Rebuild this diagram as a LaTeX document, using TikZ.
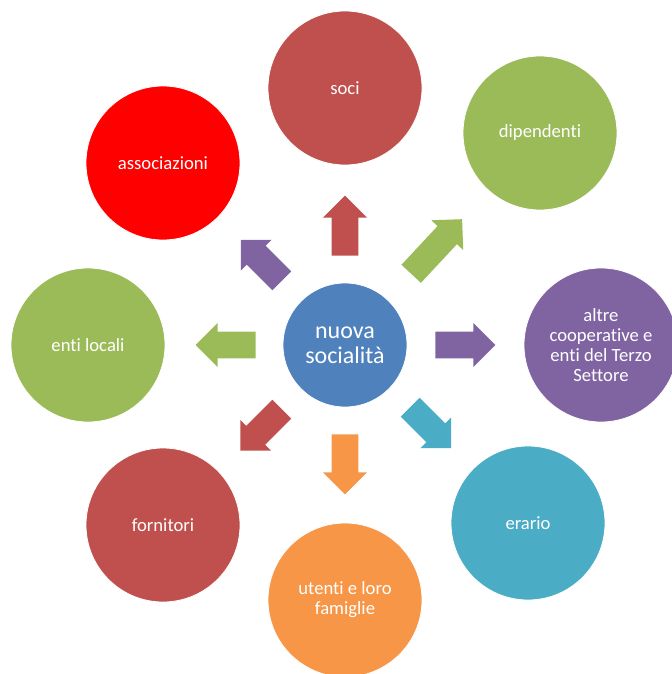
\documentclass[tikz,border=0pt]{standalone}
\usepackage{fontspec}
\setmainfont{Carlito}[Ligatures=NoCommon]
\usepackage{tikz}
\usetikzlibrary{shapes.arrows}

\definecolor{cred}{HTML}{C0504D}
\definecolor{cgreen}{HTML}{9BBB59}
\definecolor{cpurple}{HTML}{8064A2}
\definecolor{cteal}{HTML}{4BACC6}
\definecolor{corange}{HTML}{F79646}
\definecolor{cblue}{HTML}{4F81BD}

\begin{document}
\begin{tikzpicture}[x=0.75pt,y=-0.75pt]
	\useasboundingbox (0,0) rectangle (671,674);
	\begin{scope}[every node/.style={circle, draw=white, line width=0.6pt, minimum size=115.5pt,
	              inner sep=0pt, text=white, align=center, font=\fontsize{14}{15}\selectfont}]
		\node[fill=cblue, minimum size=93pt, font=\fontsize{18}{18.8}\selectfont] (mid) at (345,345) {nuova\\socialità};
		\node[fill=cred] (soci) at (345,88) {soci};
		\node[fill=cgreen] (dip) at (540,133) {dipendenti};
		\node[fill=cpurple] (altre) at (601,345) {altre\\cooperative e\\enti del Terzo\\Settore};
		\node[fill=cteal] (erario) at (528,523) {erario};
		\node[fill=corange] (utenti) at (345,600) {utenti e loro\\famiglie};
		\node[fill=cred] (forn) at (163,525) {fornitori};
		\node[fill=cgreen] (enti) at (88,345) {enti locali};
		\node[fill=red] (assoc) at (163,163) {associazioni};
	\end{scope}
	
	\begin{scope}[every node/.style={single arrow, anchor=tail, inner xsep=0pt, inner ysep=9.75pt,
	              single arrow head extend=6.4pt, minimum height=45pt}]
		\node[fill=cred, rotate=90] (a1) at (345,256) {};
		\node[fill=cgreen, rotate=47, minimum height=56pt] (a2) at (411,274) {};
		\node[fill=cpurple, rotate=0] (a3) at (435,345) {};
		\node[fill=cteal, rotate=-45, minimum height=43.5pt] (a4) at (410,407) {};
		\node[fill=corange, rotate=-90] (a5) at (345,434) {};
		\node[fill=cred, rotate=225, minimum height=44pt] (a6) at (282,409) {};
		\node[fill=cgreen, rotate=180] (a7) at (256,345) {};
		\node[fill=cpurple, rotate=135, minimum height=43.5pt] (a8) at (282,281) {};
	\end{scope}
\end{tikzpicture}
\end{document}
